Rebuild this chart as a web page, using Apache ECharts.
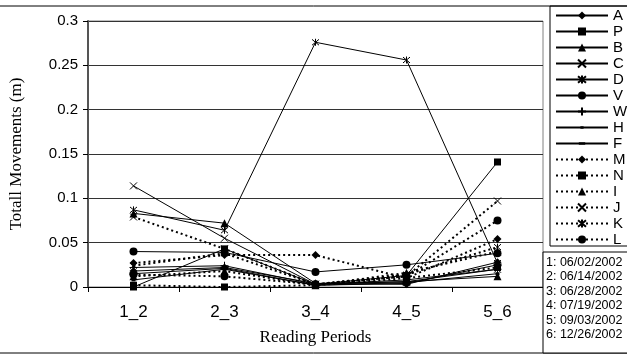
<!DOCTYPE html>
<html>
<head>
<meta charset="utf-8">
<script src="https://cdn.jsdelivr.net/npm/echarts@6/dist/echarts.min.js"></script>
<style>
  html, body { margin: 0; padding: 0; background: #fff; }
  #plot { width: 627px; height: 356px; }
</style>
</head>
<body>
<div id="plot"></div>
<script>
// reading periods on the x axis
var periods = ['1_2', '2_3', '3_4', '4_5', '5_6'];
var yTicks = [0, 0.05, 0.1, 0.15, 0.2, 0.25, 0.3];

// movements per point (m)
var A = [0.018, 0.022, 0.004, 0.003, 0.028];
var P = [0.000, 0.043, 0.003, 0.013, 0.141];
var B = [0.083, 0.072, 0.004, 0.006, 0.012];
var C = [0.114, 0.055, 0.003, 0.008, 0.020];
var D = [0.087, 0.064, 0.276, 0.256, 0.027];
var V = [0.040, 0.039, 0.017, 0.025, 0.038];
var W = [0.022, 0.024, 0.003, 0.006, 0.020];
var H = [0.008, 0.020, 0.002, 0.005, 0.015];
var F = [0.015, 0.021, 0.002, 0.004, 0.025];
var M = [0.027, 0.036, 0.036, 0.010, 0.054];
var N = [0.002, 0.000, 0.002, 0.010, 0.022];
var I = [0.012, 0.018, 0.002, 0.016, 0.040];
var J = [0.079, 0.043, 0.003, 0.012, 0.097];
var K = [0.024, 0.038, 0.003, 0.014, 0.045];
var L = [0.014, 0.012, 0.003, 0.012, 0.075];

var dates = ['1: 06/02/2002', '2: 06/14/2002', '3: 06/28/2002', '4: 07/19/2002', '5: 09/03/2002', '6: 12/26/2002'];

var crossPath = 'path://M0,0 L10,10 M10,0 L0,10';
var starPath = 'path://M0,0 L10,10 M10,0 L0,10 M5,-1 L5,11';
var plusPath = 'path://M5,0 L5,10 M0,5 L10,5';
// the bare moves keep the box square so the dash is not stretched
var shortDash = 'path://M0,0 M3,3.5 L7,3.5 L7,6.5 L3,6.5 Z M10,10';
var longDash = 'path://M0,0 M1,3.5 L9,3.5 L9,6.5 L1,6.5 Z M10,10';

// name, data, symbol, size, dotted
var seriesDefs = [
  ['A', A, 'diamond', 8, false],
  ['P', P, 'rect', 7, false],
  ['B', B, 'triangle', 8, false],
  ['C', C, crossPath, 7, false],
  ['D', D, starPath, 7, false],
  ['V', V, 'circle', 8, false],
  ['W', W, plusPath, 8, false],
  ['H', H, shortDash, 10, false],
  ['F', F, longDash, 10, false],
  ['M', M, 'diamond', 8, true],
  ['N', N, 'rect', 7, true],
  ['I', I, 'triangle', 8, true],
  ['J', J, crossPath, 7, true],
  ['K', K, starPath, 7, true],
  ['L', L, 'circle', 8, true]
];

var myChart = echarts.init(document.getElementById('plot'));

var series = seriesDefs.map(function (d) {
  var stroked = d[2] === crossPath || d[2] === starPath || d[2] === plusPath;
  return {
    name: d[0],
    type: 'line',
    data: d[1],
    symbol: d[2],
    symbolSize: d[3],
    showAllSymbol: true,
    itemStyle: {
      color: '#000',
      borderColor: '#000',
      borderWidth: stroked ? 1 : 0
    },
    lineStyle: {
      color: '#000',
      width: d[4] ? 2 : 1,
      type: d[4] ? [2, 3] : 'solid'
    }
  };
});

var option = {
  animation: false,
  textStyle: { fontFamily: 'Liberation Sans', color: '#000' },
  grid: {
    left: 87, right: 84, top: 21, bottom: 69,
    show: true, borderColor: '#808080', borderWidth: 1
  },
  xAxis: {
    type: 'category',
    data: periods,
    boundaryGap: true,
    name: 'Reading Periods',
    nameLocation: 'middle',
    nameGap: 42,
    nameTextStyle: { fontFamily: 'Liberation Serif', fontSize: 17, color: '#000' },
    axisLine: { lineStyle: { color: '#000', width: 1 } },
    axisTick: { show: true, length: 5, lineStyle: { color: '#000' } },
    axisLabel: { fontSize: 17, color: '#000', margin: 17 }
  },
  yAxis: {
    type: 'value',
    min: yTicks[0],
    max: yTicks[yTicks.length - 1],
    interval: 0.05,
    name: 'Totall Movements (m)',
    nameLocation: 'middle',
    nameGap: 63,
    nameTextStyle: { fontFamily: 'Liberation Serif', fontSize: 17, color: '#000' },
    axisLine: { show: true, lineStyle: { color: '#555', width: 2 } },
    axisTick: { show: true, length: 5, lineStyle: { color: '#000' } },
    axisLabel: { fontSize: 15, color: '#000', margin: 10 },
    splitLine: { lineStyle: { color: '#333', width: 1 } }
  },
  legend: {
    orient: 'vertical',
    left: 555,
    top: 8,
    padding: 0,
    itemWidth: 52,
    itemHeight: 10,
    itemGap: 1,
    textStyle: { fontSize: 15, lineHeight: 15, color: '#000' },
    data: seriesDefs.map(function (d) { return d[0]; })
  },
  graphic: [
    { type: 'line', shape: { x1: 0, y1: 6, x2: 627, y2: 6 }, style: { stroke: '#000', lineWidth: 1 } },
    { type: 'line', shape: { x1: 0, y1: 353, x2: 627, y2: 353 }, style: { stroke: '#000', lineWidth: 1 } },
    { type: 'rect', shape: { x: 550, y: 6, width: 90, height: 240 }, style: { fill: 'none', stroke: '#000', lineWidth: 1 } },
    { type: 'rect', z: 100, shape: { x: 543, y: 252, width: 90, height: 101 }, style: { fill: '#fff', stroke: '#000', lineWidth: 1 } },
    {
      type: 'text', z: 101, left: 546, top: 255,
      style: { text: dates.join('\n'), fontSize: 12.5, lineHeight: 14.5, fontFamily: 'Liberation Sans', fill: '#000' }
    }
  ],
  series: series
};

myChart.setOption(option);
</script>
</body>
</html>
